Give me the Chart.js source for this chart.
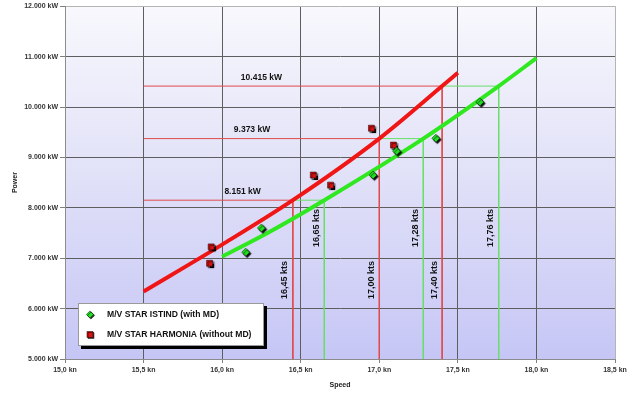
<!DOCTYPE html>
<html>
<head>
<meta charset="utf-8">
<script src="https://cdn.jsdelivr.net/npm/chart.js@4/dist/chart.umd.min.js"></script>
<style>
  html, body { margin: 0; padding: 0; background: #ffffff; }
  #c { display: block; }
</style>
</head>
<body>
<canvas id="c" width="633" height="396"></canvas>
<script>
// Axis tick labels
const speedTicks = ['15,0 kn', '15,5 kn', '16,0 kn', '16,5 kn', '17,0 kn', '17,5 kn', '18,0 kn', '18,5 kn'];
const powerTicks = ['5.000 kW', '6.000 kW', '7.000 kW', '8.000 kW', '9.000 kW', '10.000 kW', '11.000 kW', '12.000 kW'];

// Series names
const istindName = 'M/V STAR ISTIND (with MD)';
const harmoniaName = 'M/V STAR HARMONIA (without MD)';

// Measured speed/power points
const istindSpeed = [16.15, 16.25, 16.96, 17.11, 17.36, 17.64];
const istindPower = [7120, 7600, 8650, 9125, 9380, 10100];
const harmoniaSpeed = [15.92, 15.93, 16.58, 16.69, 16.95, 17.09];
const harmoniaPower = [6900, 7225, 8650, 8450, 9580, 9245];

// Fitted power curves
const istindCurveSpeed = [16.0, 16.3, 16.65, 17.28, 17.76, 18.0];
const istindCurvePower = [7030, 7520, 8151, 9373, 10415, 10970];
const harmoniaCurveSpeed = [15.5, 16.0, 16.45, 17.0, 17.4, 17.5];
const harmoniaCurvePower = [6340, 7270, 8151, 9373, 10415, 10680];

// Equal-power comparison
const refPower = [8151, 9373, 10415];
const refPowerLabels = ['8.151 kW', '9.373 kW', '10.415 kW'];
const harmoniaRefSpeed = [16.45, 17.00, 17.40];
const istindRefSpeed = [16.65, 17.28, 17.76];
const harmoniaRefLabels = ['16,45 kts', '17,00 kts', '17,40 kts'];
const istindRefLabels = ['16,65 kts', '17,28 kts', '17,76 kts'];

const speedMin = 15.0, speedMax = 18.5, speedStep = 0.5;
const powerMin = 5000, powerMax = 12000, powerStep = 1000;

const RED = '#f01616';
const GREEN = '#2fe81f';
const RED_GUIDE = '#e24a4a';
const GREEN_GUIDE = '#66e066';
const FONT = '"Liberation Sans", Arial, sans-serif';

const zip = (xs, ys) => xs.map((x, i) => ({ x: x, y: ys[i] }));

// Guide polylines: horizontal at equal power, then down to the speed axis
const guideSets = [];
refPower.forEach((p, i) => {
  guideSets.push({
    label: 'guide-red-' + i,
    data: [
      { x: harmoniaCurveSpeed[0], y: p },
      { x: harmoniaRefSpeed[i], y: p },
      { x: harmoniaRefSpeed[i], y: powerMin }
    ],
    showLine: true, borderColor: RED_GUIDE, borderWidth: 1,
    pointRadius: 0, tension: 0, order: 3
  });
  guideSets.push({
    label: 'guide-green-' + i,
    data: [
      { x: harmoniaRefSpeed[i], y: p },
      { x: istindRefSpeed[i], y: p },
      { x: istindRefSpeed[i], y: powerMin }
    ],
    showLine: true, borderColor: GREEN_GUIDE, borderWidth: 1,
    pointRadius: 0, tension: 0, order: 3
  });
});

// Gradient backdrop behind the plot area
const plotBackground = {
  id: 'plotBackground',
  beforeDraw(chart) {
    const { ctx, chartArea: a } = chart;
    const g = ctx.createLinearGradient(0, a.top, 0, a.bottom);
    g.addColorStop(0, '#f8f8fd');
    g.addColorStop(0.5, '#e0e0f8');
    g.addColorStop(1, '#c6c6f6');
    ctx.save();
    ctx.fillStyle = g;
    ctx.fillRect(a.left, a.top, a.right - a.left, a.bottom - a.top);
    ctx.restore();
  }
};

// Dark drop shadow under the measured points
const markerShadow = {
  id: 'markerShadow',
  beforeDatasetDraw(chart, args) {
    if (!chart.data.datasets[args.index].measured) return;
    const ctx = chart.ctx;
    ctx.save();
    ctx.shadowColor = 'rgba(0,0,0,0.95)';
    ctx.shadowOffsetX = 1.5;
    ctx.shadowOffsetY = 1.5;
    ctx.shadowBlur = 1;
  },
  afterDatasetDraw(chart, args) {
    if (!chart.data.datasets[args.index].measured) return;
    chart.ctx.restore();
  }
};

// Power and speed annotations for the guide lines
const guideLabels = {
  id: 'guideLabels',
  afterDatasetsDraw(chart, args, opts) {
    const { ctx, scales: { x, y }, chartArea: a } = chart;
    ctx.save();
    ctx.fillStyle = '#111111';
    ctx.textAlign = 'center';
    ctx.textBaseline = 'middle';
    ctx.font = 'bold 8.5px ' + FONT;
    refPower.forEach((p, i) => {
      ctx.fillText(refPowerLabels[i], x.getPixelForValue(opts.kwLabelAt[i]), y.getPixelForValue(p) - 8.5);
    });
    ctx.font = 'bold 9px ' + FONT;
    const vertical = (text, px, py) => {
      ctx.save();
      ctx.translate(px, py);
      ctx.rotate(-Math.PI / 2);
      ctx.fillText(text, 0, 0);
      ctx.restore();
    };
    harmoniaRefSpeed.forEach((s, i) => {
      vertical(harmoniaRefLabels[i], x.getPixelForValue(s) - 8, a.bottom - 79);
    });
    istindRefSpeed.forEach((s, i) => {
      vertical(istindRefLabels[i], x.getPixelForValue(s) - 8, a.bottom - 131);
    });
    ctx.restore();
  }
};

// Boxed legend inside the plot area
const boxLegend = {
  id: 'boxLegend',
  afterDraw(chart, args, opts) {
    const ctx = chart.ctx;
    const { left, top, width, height } = opts;
    ctx.save();
    ctx.fillStyle = '#000000';
    ctx.fillRect(left + 3, top + 3, width, height);
    ctx.fillStyle = '#ffffff';
    ctx.fillRect(left, top, width, height);
    ctx.strokeStyle = '#9a9a9a';
    ctx.lineWidth = 1;
    ctx.strokeRect(left + 0.5, top + 0.5, width - 1, height - 1);
    const items = chart.data.datasets.filter(d => d.measured);
    items.forEach((d, i) => {
      const cy = top + 11.5 + i * 20;
      ctx.save();
      ctx.shadowColor = 'rgba(0,0,0,0.8)';
      ctx.shadowOffsetX = 1;
      ctx.shadowOffsetY = 1;
      ctx.fillStyle = d.backgroundColor;
      ctx.strokeStyle = d.borderColor;
      ctx.lineWidth = 0.6;
      Chart.helpers.drawPoint(ctx, {
        pointStyle: d.pointStyle, radius: d.legendRadius, rotation: 0, borderWidth: 0.6
      }, left + 12, cy);
      ctx.restore();
      ctx.fillStyle = '#111111';
      ctx.font = 'bold 8.6px ' + FONT;
      ctx.textAlign = 'left';
      ctx.textBaseline = 'middle';
      ctx.fillText(d.label, left + 29, cy);
    });
    ctx.restore();
  }
};

new Chart(document.getElementById('c'), {
  type: 'scatter',
  data: {
    datasets: [
      {
        label: istindName, data: zip(istindSpeed, istindPower), measured: true,
        pointStyle: 'rectRot', pointRadius: 4, legendRadius: 3.6,
        backgroundColor: '#22dd22', borderColor: '#0b3a0b', borderWidth: 0.6, order: 0
      },
      {
        label: harmoniaName, data: zip(harmoniaSpeed, harmoniaPower), measured: true,
        pointStyle: 'rect', pointRadius: 4.2, legendRadius: 4.2,
        backgroundColor: '#dd1111', borderColor: '#3a0808', borderWidth: 0.6, order: 0
      },
      {
        label: 'curve-istind', data: zip(istindCurveSpeed, istindCurvePower),
        showLine: true, borderColor: GREEN, borderWidth: 4, pointRadius: 0,
        cubicInterpolationMode: 'monotone', order: 1, borderCapStyle: 'butt'
      },
      {
        label: 'curve-harmonia', data: zip(harmoniaCurveSpeed, harmoniaCurvePower),
        showLine: true, borderColor: RED, borderWidth: 4, pointRadius: 0,
        cubicInterpolationMode: 'monotone', order: 1, borderCapStyle: 'butt'
      },
      ...guideSets
    ]
  },
  options: {
    responsive: false,
    animation: false,
    devicePixelRatio: 1,
    layout: { padding: { left: 0, right: 18, top: 6, bottom: 0 } },
    plugins: {
      legend: { display: false },
      tooltip: { enabled: false },
      guideLabels: { kwLabelAt: [16.13, 16.19, 16.25] },
      boxLegend: { left: 78, top: 303, width: 186, height: 43 }
    },
    scales: {
      x: {
        type: 'linear', min: speedMin, max: speedMax,
        afterFit(scale) { scale.height = 37; },
        ticks: {
          stepSize: speedStep, padding: 3, color: '#333333',
          font: { family: FONT, size: 7, weight: 'bold' },
          maxRotation: 0,
          callback: v => speedTicks[Math.round((v - speedMin) / speedStep)]
        },
        grid: {
          color: c => (c.tick && c.tick.value === speedMax) ? '#b4b4b4' : '#5e5e5e',
          lineWidth: 1, tickLength: 4, tickColor: '#808080'
        },
        border: { color: '#8c8c8c', width: 1 },
        title: {
          display: true, text: 'Speed', color: '#222222',
          font: { family: FONT, size: 7, weight: 'bold' },
          padding: { top: 0, bottom: 7 }
        }
      },
      y: {
        type: 'linear', min: powerMin, max: powerMax,
        afterFit(scale) { scale.width = 65; },
        ticks: {
          stepSize: powerStep, padding: 2, color: '#333333',
          font: { family: FONT, size: 7, weight: 'bold' },
          callback: v => powerTicks[Math.round((v - powerMin) / powerStep)]
        },
        grid: {
          color: c => (c.tick && c.tick.value === powerMax) ? '#b4b4b4' : '#5e5e5e',
          lineWidth: 1, tickLength: 5, tickColor: '#808080'
        },
        border: { color: '#8c8c8c', width: 1 },
        title: {
          display: true, text: 'Power', color: '#222222',
          font: { family: FONT, size: 7, weight: 'bold' },
          padding: { top: 11, bottom: 0 }
        }
      }
    }
  },
  plugins: [plotBackground, markerShadow, guideLabels, boxLegend]
});
</script>
</body>
</html>
